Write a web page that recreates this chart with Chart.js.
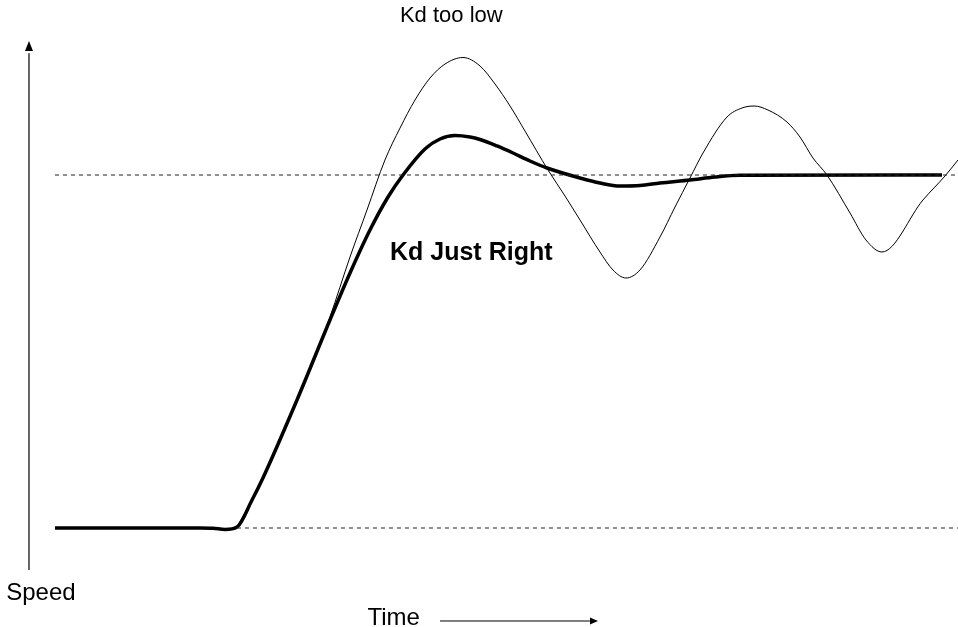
<!DOCTYPE html>
<html>
<head>
<meta charset="utf-8">
<script src="https://cdn.jsdelivr.net/npm/chart.js@4/dist/chart.umd.min.js"></script>
<style>
  html, body { margin: 0; padding: 0; background: #ffffff; }
  #wrap { width: 958px; height: 627px; }
</style>
</head>
<body>
<div id="wrap"><canvas id="c" width="958" height="627"></canvas></div>
<script>
// ---- data (time in arbitrary units, speed in % of setpoint) ----
const timeJustRight  = [0, 16.06, 17.50, 18.83, 20.16, 21.82, 23.03, 26.80, 30.45, 32.67, 34.88, 36.88, 38.54, 40.97, 42.64, 44.30, 45.96, 47.07, 48.95, 50.72, 52.60, 54.49, 58.14, 60.35, 62.57, 64.78, 67.00, 70.32, 73.09, 75.86, 98.23];
const speedJustRight = [0, 0, -0.08, -0.42, 0.28, 7.93, 14.16, 36.26, 58.92, 72.24, 84.42, 93.77, 100, 107.37, 110.20, 111.19, 110.76, 110.06, 108.22, 106.23, 103.97, 101.98, 99.15, 97.73, 96.88, 97.02, 97.73, 98.58, 99.43, 99.92, 100];

const timeTooLow  = [20.16, 21.82, 23.03, 26.80, 29.01, 30.45, 32.67, 34.55, 36.54, 38.21, 39.87, 41.53, 43.19, 45.18, 47.07, 48.73, 50.39, 52.05, 54.60, 56.48, 58.14, 60.35, 61.79, 63.23, 64.78, 67.00, 68.66, 70.32, 71.76, 74.42, 76.08, 77.41, 78.96, 81.06, 82.50, 83.94, 85.49, 88.04, 89.81, 91.58, 96.12, 98.56, 100];
const speedTooLow = [0.28, 7.93, 14.16, 36.26, 49.86, 59.77, 76.77, 90.08, 104.25, 113.31, 121.25, 127.48, 131.44, 133.29, 130.88, 125.78, 119.55, 112.46, 101.42, 94.05, 87.25, 78.19, 73.09, 70.82, 73.09, 82.44, 90.93, 99.15, 106.23, 116.43, 118.98, 119.55, 118.41, 115.01, 110.76, 104.82, 100, 89.24, 81.59, 78.19, 92.92, 99.72, 104.25];

const setpointTime  = [0, 100];
const setpointSpeed = [100, 100];
const baselineTime  = [20.16, 100];
const baselineSpeed = [0, 0];

const labelTooLow    = "Kd too low";
const labelJustRight = "Kd Just Right";
const labelSpeed     = "Speed";
const labelTime      = "Time";

function pts(xs, ys) { return xs.map((x, i) => ({ x: x, y: ys[i] })); }

// ---- decorations: axis arrows and text labels, placed through the scales ----
const decorations = {
  id: 'decorations',
  afterDatasetsDraw(chart) {
    const ctx = chart.ctx;
    const xs = chart.scales.x, ys = chart.scales.y;
    const X = v => xs.getPixelForValue(v);
    const Y = v => ys.getPixelForValue(v);
    ctx.save();

    // vertical speed axis with arrow
    const ax = X(-2.88);
    ctx.strokeStyle = '#333';
    ctx.fillStyle = '#000';
    ctx.lineWidth = 1.5;
    ctx.beginPath();
    ctx.moveTo(ax, Y(-11.9));
    ctx.lineTo(ax, Y(134.5));
    ctx.stroke();
    const tip = Y(138.0);
    ctx.beginPath();
    ctx.moveTo(ax, tip);
    ctx.lineTo(ax - 4, tip + 10);
    ctx.lineTo(ax + 4, tip + 10);
    ctx.closePath();
    ctx.fill();

    // time arrow
    const ty = Y(-26.35);
    const tx0 = X(42.64), tx1 = X(60.13);
    ctx.lineWidth = 1;
    ctx.strokeStyle = '#000';
    ctx.beginPath();
    ctx.moveTo(tx0, ty);
    ctx.lineTo(tx1 - 7, ty);
    ctx.stroke();
    ctx.beginPath();
    ctx.moveTo(tx1, ty);
    ctx.lineTo(tx1 - 8, ty - 3.5);
    ctx.lineTo(tx1 - 8, ty + 3.5);
    ctx.closePath();
    ctx.fill();

    // texts
    ctx.fillStyle = '#000';
    ctx.textBaseline = 'alphabetic';
    ctx.textAlign = 'left';
    ctx.font = '22px "Liberation Sans", Arial, sans-serif';
    ctx.fillText(labelTooLow, X(38.2), 22);
    ctx.font = '24px "Liberation Sans", Arial, sans-serif';
    ctx.fillText(labelSpeed, X(-5.4), Y(-20.4));
    ctx.fillText(labelTime, X(34.6), Y(-27.4));
    ctx.font = 'bold 25px "Liberation Sans", Arial, sans-serif';
    ctx.fillText(labelJustRight, X(37.1), Y(76.0));
    ctx.restore();
  }
};

new Chart(document.getElementById('c'), {
  type: 'line',
  data: {
    datasets: [
      { data: pts(setpointTime, setpointSpeed), borderColor: '#222', borderWidth: 1, borderDash: [4, 4], pointRadius: 0, tension: 0 },
      { data: pts(baselineTime, baselineSpeed), borderColor: '#222', borderWidth: 1, borderDash: [4, 4], pointRadius: 0, tension: 0 },
      { label: labelTooLow, data: pts(timeTooLow, speedTooLow), borderColor: '#000', borderWidth: 1, pointRadius: 0, cubicInterpolationMode: 'monotone' },
      { label: labelJustRight, data: pts(timeJustRight, speedJustRight), borderColor: '#000', borderWidth: 3.5, pointRadius: 0, cubicInterpolationMode: 'monotone' }
    ]
  },
  options: {
    responsive: false,
    animation: false,
    events: [],
    layout: { padding: 0 },
    scales: {
      x: { type: 'linear', min: -6.09, max: 100, display: false },
      y: { type: 'linear', min: -28.05, max: 149.58, display: false }
    },
    plugins: { legend: { display: false }, tooltip: { enabled: false } }
  },
  plugins: [decorations]
});
</script>
</body>
</html>
